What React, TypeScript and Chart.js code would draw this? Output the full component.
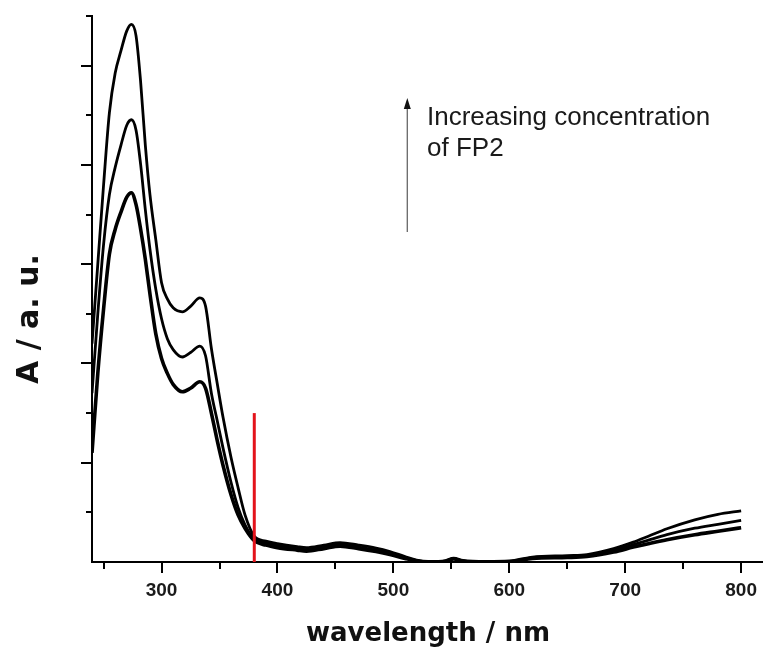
import React, { useEffect, useRef } from "react";
import { Chart, registerables } from "chart.js";

Chart.register(...registerables);

// ---- data ----
const wavelengths = [240, 245, 250, 255, 260, 265, 270, 274, 278, 282, 286, 290, 295, 300, 305, 310, 318, 325, 333, 338, 343, 348, 353, 360, 366, 372, 380, 390, 400, 417, 425, 440, 454, 470, 485, 497, 510, 520, 530, 545, 552, 560, 580, 600, 620, 650, 667, 690, 707, 720, 736, 760, 780, 800];

const absHigh = [0.44, 0.6, 0.76, 0.905, 0.985, 1.03, 1.07, 1.083, 1.06, 0.966, 0.84, 0.74, 0.65, 0.5625, 0.53, 0.512, 0.504, 0.515, 0.532, 0.515, 0.43, 0.36, 0.292, 0.21, 0.15, 0.095, 0.052, 0.042, 0.037, 0.031, 0.029, 0.034, 0.039, 0.034, 0.028, 0.021, 0.011, 0.004, 0.001, 0.003, 0.008, 0.003, 0.001, 0.002, 0.01, 0.013, 0.015, 0.027, 0.04, 0.052, 0.067, 0.085, 0.096, 0.103];

const absMid = [0.34, 0.5, 0.64, 0.74, 0.795, 0.84, 0.88, 0.891, 0.87, 0.8, 0.71, 0.63, 0.55, 0.49, 0.45, 0.428, 0.413, 0.422, 0.435, 0.415, 0.34, 0.285, 0.23, 0.16, 0.11, 0.075, 0.047, 0.038, 0.033, 0.027, 0.025, 0.03, 0.035, 0.03, 0.024, 0.018, 0.009, 0.003, 0.0, 0.002, 0.007, 0.002, 0.0, 0.001, 0.009, 0.011, 0.013, 0.023, 0.035, 0.044, 0.055, 0.068, 0.076, 0.084];

const absLow = [0.22, 0.38, 0.51, 0.62, 0.67, 0.705, 0.735, 0.744, 0.72, 0.67, 0.61, 0.54, 0.46, 0.41, 0.38, 0.358, 0.343, 0.35, 0.363, 0.35, 0.3, 0.245, 0.195, 0.135, 0.095, 0.068, 0.043, 0.034, 0.029, 0.024, 0.022, 0.027, 0.032, 0.027, 0.021, 0.015, 0.007, 0.002, 0.0, 0.001, 0.006, 0.001, 0.0, 0.0, 0.007, 0.009, 0.011, 0.02, 0.03, 0.037, 0.045, 0.055, 0.062, 0.069];

const xTickValues = [250, 300, 350, 400, 450, 500, 550, 600, 650, 700, 750, 800];
const xLabelValues = [300, 400, 500, 600, 700, 800];
const yTickValues = [0.1, 0.2, 0.3, 0.4, 0.5, 0.6, 0.7, 0.8, 0.9, 1.0, 1.1];
const yMajorValues = [0.2, 0.4, 0.6, 0.8, 1.0];

const markerX = [380, 380];
const markerY = [0, 0.3];

const arrowX = 512;
const arrowFromY = 0.665;
const arrowToY = 0.935;
const noteX = 529;
const noteLines = ["Increasing concentration", "of FP2"];
const noteLineY = [0.881, 0.817];

const xTitle = "wavelength / nm";
const yTitle = "A / a. u.";

const toPoints = (ys: number[]) => wavelengths.map((x, i) => ({ x, y: ys[i] }));

const decorPlugin = {
  id: "decor",
  afterDraw(chart: any) {
    const ctx = chart.ctx;
    const xs = chart.scales.x;
    const ys = chart.scales.y;
    const area = chart.chartArea;
    ctx.save();
    // y ticks
    ctx.strokeStyle = "#000";
    ctx.lineWidth = 2;
    yTickValues.forEach((v) => {
      const py = Math.round(ys.getPixelForValue(v));
      const major = yMajorValues.some((m) => Math.abs(m - v) < 1e-6);
      const len = major ? 11 : 6;
      ctx.beginPath();
      ctx.moveTo(area.left - len, py);
      ctx.lineTo(area.left, py);
      ctx.stroke();
    });
    // x ticks
    xTickValues.forEach((v) => {
      const px = Math.round(xs.getPixelForValue(v));
      const major = xLabelValues.includes(v);
      const len = major ? 11 : 7;
      ctx.beginPath();
      ctx.moveTo(px, area.bottom);
      ctx.lineTo(px, area.bottom + len);
      ctx.stroke();
    });
    // arrow
    const ax = xs.getPixelForValue(arrowX);
    const ay0 = ys.getPixelForValue(arrowFromY);
    const ay1 = ys.getPixelForValue(arrowToY);
    ctx.strokeStyle = "#666";
    ctx.lineWidth = 1.3;
    ctx.beginPath();
    ctx.moveTo(ax, ay0);
    ctx.lineTo(ax, ay1 + 8);
    ctx.stroke();
    ctx.fillStyle = "#111";
    ctx.beginPath();
    ctx.moveTo(ax, ay1);
    ctx.lineTo(ax - 3.5, ay1 + 11);
    ctx.lineTo(ax + 3.5, ay1 + 11);
    ctx.closePath();
    ctx.fill();
    // note
    ctx.fillStyle = "#1a1a1a";
    ctx.font = "26px 'Liberation Sans', Arial, sans-serif";
    ctx.textAlign = "left";
    ctx.textBaseline = "alphabetic";
    noteLines.forEach((t, i) => {
      ctx.fillText(t, xs.getPixelForValue(noteX), ys.getPixelForValue(noteLineY[i]));
    });
    // axis titles
    ctx.fillStyle = "#111";
    ctx.font = "bold 26px 'DejaVu Sans', sans-serif";
    ctx.textAlign = "center";
    ctx.fillText(xTitle, 428, 641);
    ctx.save();
    ctx.translate(38, (area.top + area.bottom) / 2 + 30);
    ctx.rotate(-Math.PI / 2);
    ctx.font = "bold 30px 'DejaVu Sans', sans-serif";
    ctx.fillText(yTitle, 0, 0);
    ctx.restore();
    ctx.restore();
  },
};

export default function App() {
  const ref = useRef<HTMLCanvasElement | null>(null);
  useEffect(() => {
    if (!ref.current) return;
    const lineStyle = {
      borderColor: "#000",
      pointRadius: 0,
      fill: false,
      cubicInterpolationMode: "monotone" as const,
      order: 1,
    };
    const chart = new Chart(ref.current, {
      type: "line",
      data: {
        datasets: [
          {
            label: "marker",
            data: markerX.map((x, i) => ({ x, y: markerY[i] })),
            borderColor: "#e3131b",
            borderWidth: 3,
            pointRadius: 0,
            order: 0,
          },
          { label: "high", data: toPoints(absHigh), borderWidth: 2.8, ...lineStyle },
          { label: "mid", data: toPoints(absMid), borderWidth: 2.8, ...lineStyle },
          { label: "low", data: toPoints(absLow), borderWidth: 3.6, ...lineStyle },
        ],
      },
      options: {
        animation: false,
        responsive: true,
        maintainAspectRatio: false,
        layout: { padding: { left: 92, top: 16, right: 5, bottom: 0 } },
        plugins: { legend: { display: false }, tooltip: { enabled: false } },
        scales: {
          x: {
            type: "linear",
            min: 240,
            max: 818,
            grid: { display: false, drawTicks: false },
            border: { display: true, color: "#000", width: 2 },
            afterBuildTicks: (s: any) => {
              s.ticks = xTickValues.map((v) => ({ value: v }));
            },
            afterFit: (s: any) => {
              s.height = 91;
              s.paddingLeft = 0;
              s.paddingRight = 0;
            },
            ticks: {
              autoSkip: false,
              maxRotation: 0,
              padding: 17,
              color: "#1a1a1a",
              font: { family: "'Liberation Sans', Arial, sans-serif", size: 19, weight: "bold" },
              callback: (v: any) => (xLabelValues.includes(Number(v)) ? String(v) : ""),
            },
          },
          y: {
            type: "linear",
            min: 0,
            max: 1.1,
            grid: { display: false, drawTicks: false },
            border: { display: true, color: "#000", width: 2 },
            ticks: { display: false },
            afterFit: (s: any) => {
              s.width = 0;
              s.paddingTop = 0;
              s.paddingBottom = 0;
            },
          },
        },
      },
      plugins: [decorPlugin],
    });
    return () => chart.destroy();
  }, []);
  return (
    <div style={{ position: "absolute", left: 0, top: 0, width: 767, height: 653, background: "#fff" }}>
      <canvas ref={ref} />
    </div>
  );
}
